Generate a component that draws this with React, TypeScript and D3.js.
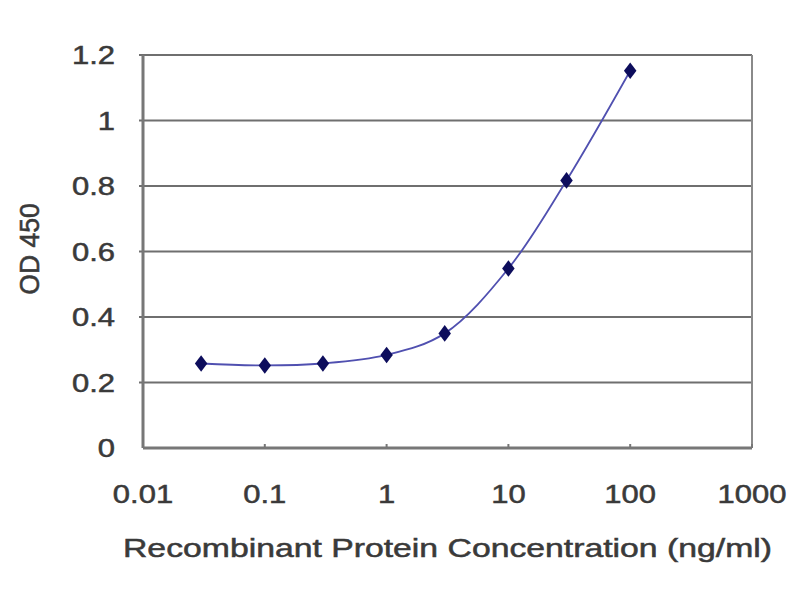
import React, { useEffect, useRef } from 'react';
import * as d3 from 'd3';

const concentrations = [0.03, 0.1, 0.3, 1, 3, 10, 30, 100];
const odValues = [0.258, 0.252, 0.258, 0.284, 0.35, 0.548, 0.817, 1.152];
const xTicks = [0.01, 0.1, 1, 10, 100, 1000];
const yTicks = [0, 0.2, 0.4, 0.6, 0.8, 1, 1.2];

const App: React.FC = () => {
  const ref = useRef<SVGSVGElement>(null);

  useEffect(() => {
    if (!ref.current) return;
    const margin = { top: 55, right: 48, bottom: 152, left: 143 },
      width = 800 - margin.left - margin.right,
      height = 600 - margin.top - margin.bottom;

    const root = d3.select(ref.current);
    root.selectAll('*').remove();

    const svg = root
      .append('g')
      .attr('transform', `translate(${margin.left},${margin.top})`);

    const x = d3.scaleLog().domain([0.01, 1000]).range([0, width]);
    const y = d3.scaleLinear().domain([0, 1.2]).range([height, 0]);

    // gridlines
    svg.selectAll('.grid')
      .data(yTicks.filter(d => d > 0))
      .enter()
      .append('line')
      .attr('x1', -4)
      .attr('x2', width)
      .attr('y1', d => y(d))
      .attr('y2', d => y(d))
      .attr('stroke', '#6f6f6f')
      .attr('stroke-width', 2);

    // frame
    svg.append('line').attr('x1', width).attr('x2', width).attr('y1', 0).attr('y2', height)
      .attr('stroke', '#8a8a8a').attr('stroke-width', 2);
    svg.append('line').attr('x1', 0).attr('x2', 0).attr('y1', 0).attr('y2', height)
      .attr('stroke', '#777').attr('stroke-width', 3);
    svg.append('line').attr('x1', 0).attr('x2', width).attr('y1', height).attr('y2', height)
      .attr('stroke', '#777').attr('stroke-width', 3);

    // x tick marks (inward)
    svg.selectAll('.xt')
      .data(xTicks)
      .enter()
      .append('line')
      .attr('x1', d => x(d))
      .attr('x2', d => x(d))
      .attr('y1', height)
      .attr('y2', height - 4)
      .attr('stroke', '#777')
      .attr('stroke-width', 2);

    const font = 'Liberation Sans, Arial, sans-serif';
    const ink = '#3a3a3a';
    const style = (t: d3.Selection<SVGTextElement, any, any, any>) =>
      t.attr('font-family', font)
        .attr('font-size', 25)
        .attr('fill', ink)
        .attr('stroke', ink)
        .attr('stroke-width', 0.5);

    svg.selectAll('.xl')
      .data(xTicks)
      .enter()
      .append('text')
      .attr('transform', d => `translate(${x(d)},${height + 55}) scale(1.24,1)`)
      .attr('text-anchor', 'middle')
      .call(style)
      .text(d => d3.format('~g')(d));

    svg.selectAll('.yl')
      .data(yTicks)
      .enter()
      .append('text')
      .attr('transform', d => `translate(-28,${y(d) + 9}) scale(1.24,1)`)
      .attr('text-anchor', 'end')
      .call(style)
      .text(d => d3.format('~g')(d));

    svg.append('text')
      .attr('x', 123 - margin.left)
      .attr('y', height + 109)
      .attr('textLength', 649)
      .attr('lengthAdjust', 'spacingAndGlyphs')
      .call(style)
      .text('Recombinant Protein Concentration (ng/ml)');

    svg.append('text')
      .attr('transform', `translate(${39 - margin.left},${249 - margin.top}) rotate(-90) scale(1.06,1.1)`)
      .attr('text-anchor', 'middle')
      .call(style)
      .text('OD 450');

    const pts: [number, number][] = concentrations.map((c, i) => [c, odValues[i]]);

    const line = d3.line<[number, number]>()
      .x(d => x(d[0]))
      .y(d => y(d[1]))
      .curve(d3.curveCatmullRom.alpha(0.5));

    svg.append('path')
      .datum(pts)
      .attr('d', line)
      .attr('fill', 'none')
      .attr('stroke', '#5050b0')
      .attr('stroke-width', 1.8);

    svg.selectAll('.pt')
      .data(pts)
      .enter()
      .append('path')
      .attr('d', d3.symbol().type(d3.symbolDiamond).size(80))
      .attr('transform', d => `translate(${x(d[0])},${y(d[1])}) scale(1.3,1)`)
      .attr('fill', '#0d0d5c');
  }, []);

  return (
    <svg
      ref={ref}
      width={800}
      height={600}
      style={{ position: 'absolute', left: 0, top: 0, background: '#fff' }}
    />
  );
};

export default App;
